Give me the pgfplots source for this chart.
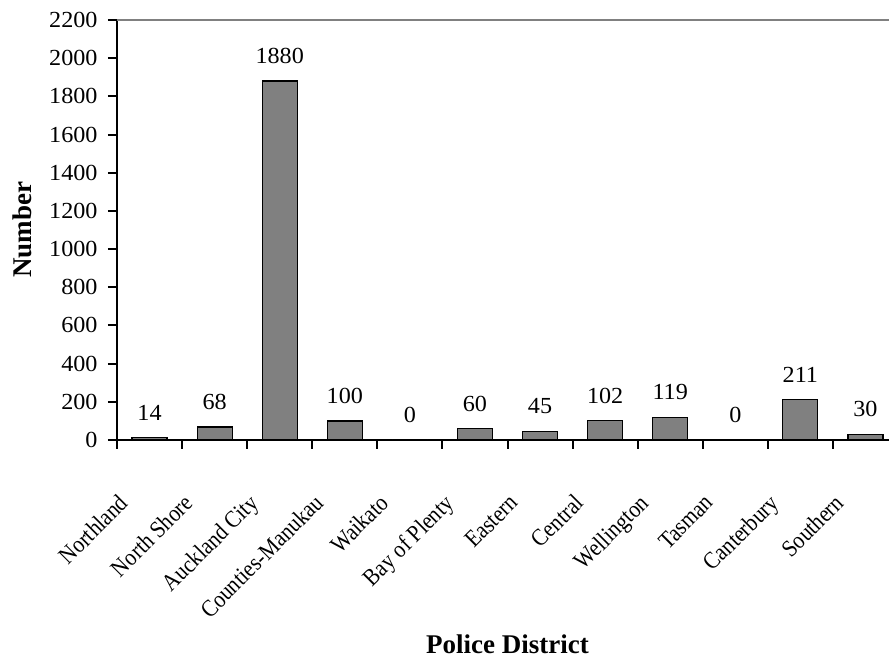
\documentclass[border=0pt]{standalone}
\usepackage{fontspec}
\setmainfont{Liberation Serif}
\newfontfamily\numfont[FakeStretch=1.05]{Liberation Serif}
\newfontfamily\catfont[FakeStretch=0.88]{Liberation Serif}
\usepackage{pgfplots}
\pgfplotsset{compat=1.18}
\definecolor{barfill}{RGB}{128,128,128}

\pgfplotstableread{
x  n
0  14
1  68
2  1880
3  100
4  0
5  60
6  45
7  102
8  119
9  0
10 211
11 30
}\districts

\begin{document}
\begin{tikzpicture}
  \begin{axis}[
    at={(0,0)}, anchor=south west,
    scale only axis,
    width=390.5pt, height=210pt,
    xmin=-0.5, xmax=11.5,
    ymin=0, ymax=2200,
    ytick={0,200,...,2200},
    xtick={-0.5,0.5,...,10.5},
    xticklabels={},
    extra x ticks={0,1,...,11},
    extra x tick labels={Northland,North Shore,Auckland City,Counties-Manukau,Waikato,Bay of Plenty,Eastern,Central,Wellington,Tasman,Canterbury,Southern},
    extra x tick style={
      tick style={draw=none},
      xticklabel style={font=\catfont\fontsize{12}{14}\selectfont, xshift=-16pt, yshift=-17pt, rotate=45, anchor=north east},
    },
    axis x line*=bottom,
    axis y line*=left,
    axis line style={-, line width=1pt},
    tick align=outside,
    major tick length=4.5pt,
    tick style={line width=1pt, black},
    /pgf/number format/assume math mode=true,
    /pgf/number format/1000 sep={},
    yticklabel style={font=\numfont\fontsize{11.5}{13}\selectfont, xshift=-1.7pt},
    every axis y label/.style={at={(axis description cs:-0.1216,0.5)}, rotate=90, anchor=center},
    every axis x label/.style={at={(axis description cs:0.5,0)}, anchor=base, yshift=-106.5pt},
    ylabel={\bfseries\fontsize{13.5}{16}\selectfont Number},
    xlabel={\bfseries\fontsize{13.5}{16}\selectfont Police District},
    clip=false,
  ]
    \draw[gray, line width=0.6pt] (rel axis cs:0,1) -- (rel axis cs:1,1);
    \addplot[
      ybar,
      bar width=17.5pt,
      fill=barfill,
      draw=black,
      line width=0.6pt,
      nodes near coords,
      nodes near coords style={font=\numfont\fontsize{11.5}{13}\selectfont, anchor=south, yshift=5pt},
      /pgf/number format/assume math mode=true,
      /pgf/number format/1000 sep={},
    ] table[x=x, y=n] {\districts};
  \end{axis}
  \pgfresetboundingbox
  \useasboundingbox (-58.5pt,-109pt) rectangle (386pt,220pt);
\end{tikzpicture}
\end{document}
